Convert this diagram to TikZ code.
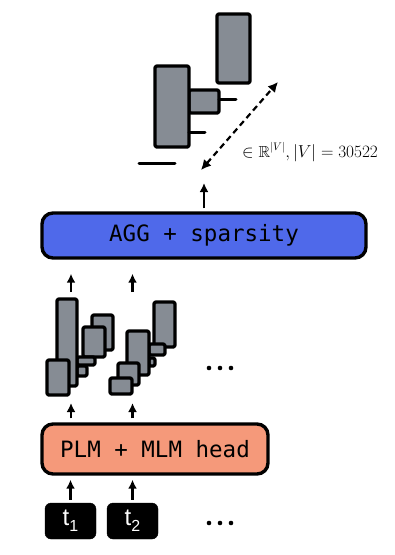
\documentclass[tikz,border=0pt]{standalone}
\usepackage{amssymb}
\usepackage{fontspec}
\newfontfamily\monofont{DejaVu Sans Mono}
\newfontfamily\tokfont{Liberation Sans}
\usetikzlibrary{arrows.meta}
\definecolor{barg}{HTML}{868C94}
\definecolor{aggblue}{HTML}{4F69EA}
\definecolor{plmsalmon}{HTML}{F5997A}
\tikzset{
  bar/.style={draw=black, fill=barg, line width=3.2pt, rounded corners=1.5pt, line join=round},
  stub/.style={draw=black, line width=3pt, line cap=round},
  blockbox/.style={draw=black, line width=3.4pt, rounded corners=11pt, inner sep=0pt, font=\monofont\fontsize{22.5}{26}\selectfont},
  tokbox/.style={draw=black, fill=black, rounded corners=6pt, minimum width=51pt, minimum height=36pt, inner sep=0pt, text=white, font=\tokfont\fontsize{24}{26}\selectfont},
  arr/.style={draw=black, line width=2.5pt, -{Latex[length=9pt,width=9pt]}},
  darr/.style={draw=black, line width=2.2pt, dash pattern=on 6pt off 4pt, {Latex[length=10pt,width=10pt]}-{Latex[length=10pt,width=10pt]}},
  dotc/.style={fill=black, draw=none}
}
\begin{document}
\begin{tikzpicture}[x=1pt,y=-1pt]
\useasboundingbox (0,0) rectangle (395,555);
\fill[white] (0,0) rectangle (395,555);

% tokens
\node[tokbox] (t1) at (70.5,521) {t{\fontsize{16}{16}\selectfont\raisebox{-6pt}{1}}};
\node[tokbox] (t2) at (132.5,521) {t{\fontsize{16}{16}\selectfont\raisebox{-6pt}{2}}};
\foreach \x in {209,220,231} \fill[dotc] (\x,523) circle (2.3pt);

% PLM block
\node[blockbox, fill=plmsalmon, minimum width=226pt, minimum height=50pt] (plm) at (155,449) {PLM + MLM head};

% AGG block
\node[blockbox, fill=aggblue, minimum width=324pt, minimum height=45pt] (agg) at (204,235.5) {AGG + sparsity\hspace{12pt}};

% arrows tokens -> PLM
\draw[arr, shorten <=3pt, shorten >=4pt] (t1.north) -- (t1.north |- plm.south);
\draw[arr, shorten <=3pt, shorten >=4pt] (t2.north) -- (t2.north |- plm.south);

% arrows PLM -> bars
\coordinate (p1) at (71,403);
\coordinate (p2) at (132.5,403);
\draw[arr, shorten <=4pt] (plm.north -| p1) -- (p1);
\draw[arr, shorten <=4pt] (plm.north -| p2) -- (p2);

% bars group 1
\draw[bar] (92,315) rectangle (113,350);
\draw[bar] (83,327) rectangle (105,357);
\draw[bar] (77,357) rectangle (95,365);
\draw[bar] (77,366) rectangle (87,376);
\draw[bar] (57,299) rectangle (77,386);
\draw[bar] (47,360) rectangle (69,395);

% bars group 2
\draw[bar] (154,302) rectangle (175,347);
\draw[bar] (149,344) rectangle (165,355);
\draw[bar] (149,358) rectangle (155,366);
\draw[bar] (127,331) rectangle (149,375);
\draw[bar] (118,363) rectangle (139,385);
\draw[bar] (110,378) rectangle (132,394);

\foreach \x in {209,220,231} \fill[dotc] (\x,368) circle (2.3pt);

% arrows bars -> AGG
\coordinate (q1) at (71,292);
\coordinate (q2) at (132.5,292);
\draw[arr, shorten >=14pt] (q1) -- (q1 |- agg.south);
\draw[arr, shorten >=14pt] (q2) -- (q2 |- agg.south);

% arrow AGG -> output
\coordinate (o1) at (204,183);
\draw[arr, shorten <=3pt] (agg.north -| o1) -- (o1);

% output bars
\draw[bar] (217,14) rectangle (250,83);
\draw[bar] (189,90) rectangle (219,113);
\draw[bar] (155,66) rectangle (189,147);
\draw[stub] (219,99) -- (236,99);
\draw[stub] (189,132) -- (205,132);
\draw[stub] (139,163) -- (175,163);

% dashed double arrow
\coordinate (d1) at (201,170);
\coordinate (d2) at (278,82);
\draw[darr] (d1) -- (d2);

\node[anchor=west, inner sep=0pt, font=\fontsize{16}{19}\selectfont] (lbl) at (242,152) {$\in \mathbb{R}^{|V|}, |V| = 30522$};
\end{tikzpicture}
\end{document}
